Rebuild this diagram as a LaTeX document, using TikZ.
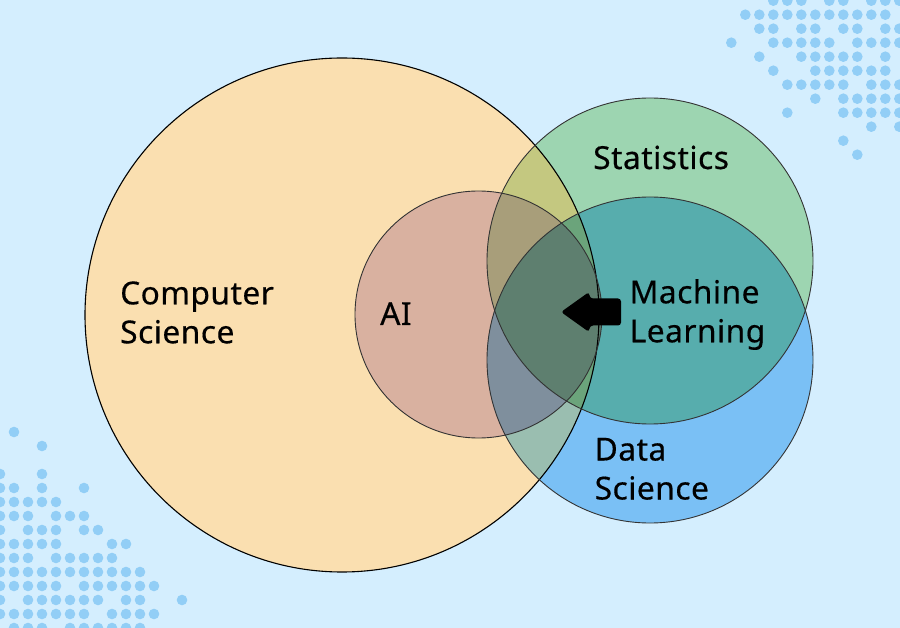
\documentclass[tikz,border=0pt]{standalone}
\usepackage{fontspec}
\setmainfont[LetterSpace=1.5,FakeBold=0.4]{Noto Sans}
\definecolor{bg}{HTML}{D4EEFE}
\definecolor{dotc}{HTML}{92CEF6}
\definecolor{cs}{HTML}{FADFB0}
\definecolor{ai}{HTML}{D9B1A0}
\definecolor{st}{HTML}{9DD5B1}
\definecolor{ds}{HTML}{7AC0F5}
\definecolor{csst}{HTML}{C4C880}
\definecolor{aist}{HTML}{A89E7A}
\definecolor{csds}{HTML}{9ABEB0}
\definecolor{aids}{HTML}{7F8F9D}
\definecolor{stds}{HTML}{57ADAD}
\definecolor{csstds}{HTML}{6BA47B}
\definecolor{aistds}{HTML}{5E7F6F}
\begin{document}
\begin{tikzpicture}[x=1pt,y=-1pt,
  lbl/.style={font=\fontsize{31.7}{39}\selectfont, inner sep=0pt, align=left, text=black, anchor=base west},
  ring/.style={draw=black!80, line width=0.9pt},
  dot/.style={fill=dotc}]
\useasboundingbox (0,0) rectangle (900,628);
\fill[bg] (0,0) rectangle (900,628);
% dots top right
\foreach \r/\cols in {0/{3,4,5,7,8,10,11,12},1/{1,...,11},2/{2,3,5,6,8,9,11,12},3/{0,3,4,5,6,7,9,10,11,12},4/{2,5,6,7,8,9,11},5/{3,6,7,8,9,10,11},6/{4,5,6,7,8,10,11,12},7/{6,8,9,10,11,12},8/{4,8,9,10,11,12},9/{10,12},10/{8},11/{9}}{
  \foreach \c in \cols {\fill[dot] (731.3+14*\c, 0.7+14*\r) circle[radius=5.3pt];}}
% dots bottom left
\foreach \r/\cols in {0/{1},1/{3},3/{0,3},4/{0,1,3,6},5/{0,...,4},6/{0,1,2,4,5,6},7/{0,2,3,4,6,7},8/{0,1,2,3,4,8,9},9/{0,1,2,4,5,6,7,8},10/{0,...,10},11/{0,...,4,6,7,8,9,10,11},12/{0,2,3,4,5,6,7,9,10,13},13/{0,...,6,8,9,10,11},14/{1,2,3,5,6,7,8,9,10}}{
  \foreach \c in \cols {\fill[dot] (14*\c, 432+14*\r) circle[radius=5.3pt];}}
% circle centres
\coordinate (csC) at (342,315);
\coordinate (aiC) at (478.5,314.5);
\coordinate (stC) at (650,261);
\coordinate (dsC) at (650,360);
\def\rcs{257pt}\def\rai{123.5pt}\def\rst{163pt}\def\rds{163pt}
% region fills
\fill[cs] (csC) circle[radius=\rcs];
\fill[ai] (aiC) circle[radius=\rai];
\fill[st] (stC) circle[radius=\rst];
\begin{scope}
  \clip (stC) circle[radius=\rst];
  \fill[csst] (csC) circle[radius=\rcs];
  \fill[aist] (aiC) circle[radius=\rai];
\end{scope}
\fill[ds] (dsC) circle[radius=\rds];
\begin{scope}
  \clip (dsC) circle[radius=\rds];
  \fill[csds] (csC) circle[radius=\rcs];
  \fill[aids] (aiC) circle[radius=\rai];
  \clip (stC) circle[radius=\rst];
  \fill[stds] (stC) circle[radius=\rst];
  \fill[csstds] (csC) circle[radius=\rcs];
  \fill[aistds] (aiC) circle[radius=\rai];
\end{scope}
% outlines
\draw[black, line width=1.1pt] (csC) circle[radius=\rcs];
\draw[ring] (aiC) circle[radius=\rai];
\draw[ring] (stC) circle[radius=\rst];
\draw[ring] (dsC) circle[radius=\rds];
% labels
\node[lbl] (cslbl) at (120,343.3) {Computer\\Science};
\node[lbl] (ailbl) at (380,325) {AI};
\node[lbl] (stlbl) at (593,169) {Statistics};
\node[lbl] (mllbl) at (629.5,342.3) {Machine\\Learning};
\node[lbl] (dslbl) at (594.5,499.5) {Data\\Science};
% arrow
\coordinate (arrtip) at (561,312);
\fill[black, rounded corners=3pt] (621,298.5) -- (590,298.5) -- (589,292) -- (arrtip) -- (589,332) -- (590,325.5) -- (621,325.5) -- cycle;
\end{tikzpicture}
\end{document}
